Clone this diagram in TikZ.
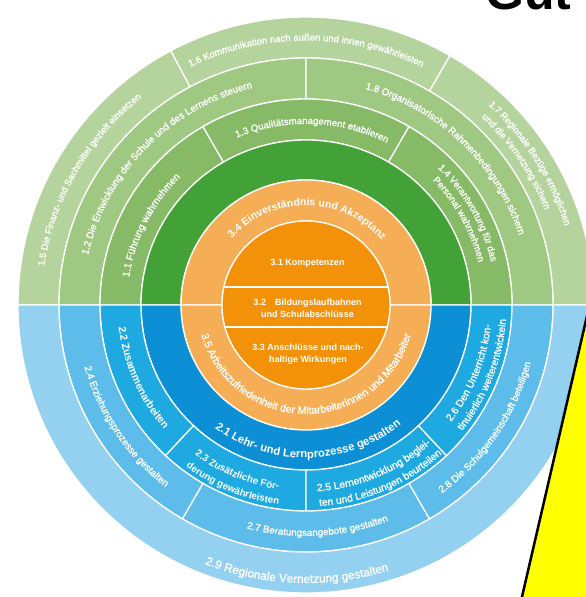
\documentclass[tikz,border=0pt]{standalone}
\usepackage{fontspec}
\setmainfont{Liberation Sans}
\newfontfamily\lblfont[FakeBold=1.3]{Liberation Sans}
\usetikzlibrary{decorations.text}
\definecolor{gA}{HTML}{B5D49D}
\definecolor{gB}{HTML}{9FC883}
\definecolor{gC}{HTML}{86BA66}
\definecolor{gD}{HTML}{42A137}
\definecolor{oA}{HTML}{F5AE55}
\definecolor{oB}{HTML}{F39208}
\definecolor{bA}{HTML}{0D8FD5}
\definecolor{bB}{HTML}{1EA9E1}
\definecolor{bC}{HTML}{5DBCE9}
\definecolor{bD}{HTML}{94D0EF}
\definecolor{ylw}{HTML}{FFFF00}
\newcommand\Rseg[5]{\filldraw[fill=#1,draw=white,line width=1.3pt] (#2:#4pt) arc[start angle=#2,end angle=#3,radius=#4pt] -- (#3:#5pt) arc[start angle=#3,end angle=#2,radius=#5pt] -- cycle;}
\newcommand\lblcw[5]{\pgfmathsetmacro\lbA{#1+88}\pgfmathsetmacro\lbB{#1-88}%
\path[decorate,decoration={text along path,text align=center,text={|\fontsize{#3}{#3}#4\selectfont\color{white}|#5}}] (\lbA:#2pt) arc[start angle=\lbA,end angle=\lbB,radius=#2pt];}
\newcommand\lblccw[5]{\pgfmathsetmacro\lbA{#1-88}\pgfmathsetmacro\lbB{#1+88}%
\path[decorate,decoration={text along path,text align=center,text={|\fontsize{#3}{#3}#4\selectfont\color{white}|#5}}] (\lbA:#2pt) arc[start angle=\lbA,end angle=\lbB,radius=#2pt];}
\begin{document}
\begin{tikzpicture}[x=1pt,y=1pt]
\useasboundingbox (0,0) rectangle (586,597);
\clip (0,0) rectangle (586,597);
\fill[white] (0,0) rectangle (586,597);
\begin{scope}[shift={(306,292)}]
% green half
\Rseg{gA}{118}{180}{247}{288}
\Rseg{gA}{60}{118}{247}{288}
\Rseg{gA}{0}{60}{247}{288}
\Rseg{gB}{90}{180}{206}{247}
\Rseg{gB}{0}{90}{206}{247}
\Rseg{gC}{120}{180}{165}{206}
\Rseg{gC}{60}{120}{165}{206}
\Rseg{gC}{0}{60}{165}{206}
\Rseg{gD}{0}{180}{125}{165}
% orange ring
\Rseg{oA}{0}{180}{84}{125}
\Rseg{oA}{180}{360}{84}{125}
% blue half
\Rseg{bA}{180}{360}{125}{165}
\Rseg{bB}{180}{227}{165}{206}
\Rseg{bB}{227}{270}{165}{206}
\Rseg{bB}{270}{313}{165}{206}
\Rseg{bB}{313}{360}{165}{206}
\Rseg{bC}{180}{240}{206}{247}
\Rseg{bC}{240}{300}{206}{247}
\Rseg{bC}{300}{360}{206}{247}
\Rseg{bD}{180}{360}{247}{288}
% inner circle
\filldraw[fill=oB,draw=white,line width=1.3pt] (0,0) circle[radius=84pt];
\draw[white,line width=1.3pt] (-82.05,18) -- (82.05,18);
\draw[white,line width=1.3pt] (-81.07,-22) -- (81.07,-22);
\node[font=\fontsize{9}{12.5}\selectfont\bfseries,text=white,align=center] (t31) at (1.5,42) {3.1 Kompetenzen};
\node[font=\fontsize{9}{12.5}\selectfont\bfseries,text=white,align=center] (t32) at (1.5,-3.5) {3.2\quad Bildungslaufbahnen\\und Schulabschlüsse};
\node[font=\fontsize{9}{12}\selectfont\bfseries,text=white,align=center] (t33) at (2,-49) {3.3 Anschlüsse und nach-\\haltige Wirkungen};
% top labels (clockwise)
\lblcw{150}{264.5}{9.3}{\lblfont}{1.5 Die Finanz- und Sachmittel gezielt einsetzen}
\lblcw{90}{264.5}{9.5}{\lblfont}{1.6 Kommunikation nach außen und innen gewährleisten}
\lblcw{32.3}{270.5}{9.3}{\lblfont}{1.7 Regionale Bezüge ermöglichen}
\lblcw{34.3}{257}{9.3}{\lblfont}{und die Vernetzung sichern}
\lblcw{135.5}{223.5}{9.8}{\lblfont}{1.2 Die Entwicklung der Schule und des Lernens steuern}
\lblcw{46.4}{224}{9.8}{\lblfont}{1.8 Organisatorische Rahmenbedingungen sichern}
\lblcw{152.8}{179}{10}{\lblfont}{1.1 Führung wahrnehmen}
\lblcw{88}{181}{9.6}{\lblfont}{1.3 Qualitätsmanagement etablieren}
\lblcw{29.6}{190}{9.5}{\lblfont}{1.4 Verantwortung für das}
\lblcw{29.2}{177.5}{9.5}{\lblfont}{Personal wahrnehmen}
\lblcw{89.2}{99.5}{10.5}{\bfseries}{3.4 Einverständnis und Akzeptanz}
% bottom labels (counter-clockwise)
\lblccw{270}{109}{10.6}{\lblfont}{3.5 Arbeitszufriedenheit der Mitarbeiterinnen und Mitarbeiter}
\lblccw{271}{153}{11.3}{\bfseries}{2.1 Lehr- und Lernprozesse gestalten}
\lblccw{204}{188.5}{10.5}{\bfseries}{2.2 Zusammenarbeiten}
\lblccw{247.5}{186.5}{9.8}{\bfseries}{2.3 Zusätzliche För-}
\lblccw{247.8}{201.5}{9.8}{\bfseries}{derung gewährleisten}
\lblccw{292.7}{186.5}{10.3}{\lblfont}{2.5 Lernentwicklung beglei-}
\lblccw{293.1}{201.5}{10.3}{\lblfont}{ten und Leistungen beurteilen}
\lblccw{337.5}{186}{10.3}{\lblfont}{2.6 Den Unterricht kon-}
\lblccw{338.5}{200.5}{10.3}{\lblfont}{tinuierlich weiterentwickeln}
\lblccw{214}{230}{9.8}{\lblfont}{2.4 Erziehungsprozesse gestalten}
\lblccw{273}{231}{9.8}{\lblfont}{2.7 Beratungsangebote gestalten}
\lblccw{325.7}{232}{9.8}{\lblfont}{2.8 Die Schulgemeinschaft beteiligen}
\lblccw{268}{278}{11.8}{\lblfont}{2.9 Regionale Vernetzung gestalten}
\end{scope}
% overlay shape and title
\filldraw[fill=ylw,draw=black,line width=2.5pt] (520.8,-5) -- (590,294) -- (610,294) -- (610,-5) -- cycle;
\node[anchor=base west,inner sep=0pt,font=\fontsize{50}{50}\selectfont\bfseries] (title) at (485,587) {Gut};
\end{tikzpicture}
\end{document}
